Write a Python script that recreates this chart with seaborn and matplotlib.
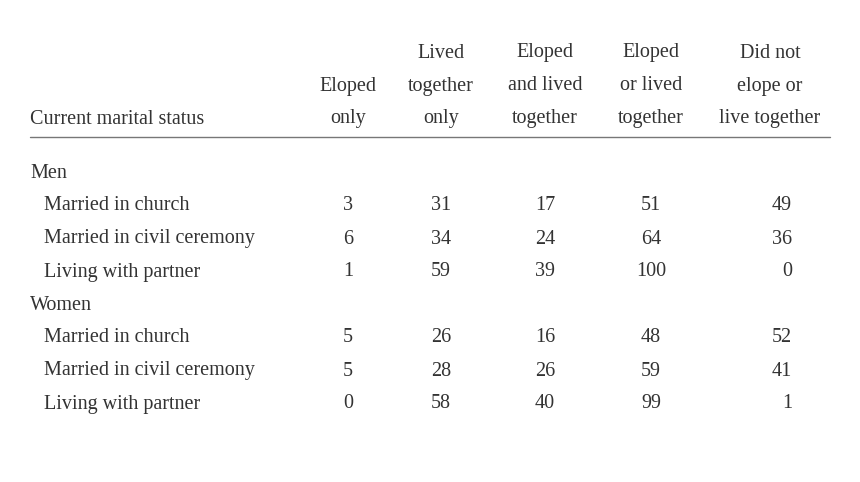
import matplotlib
matplotlib.use("Agg")
import matplotlib.pyplot as plt
import seaborn as sns

sns.set_theme(style="white")
plt.rcParams["font.family"] = ["Liberation Serif", "DejaVu Serif"]

headers = [["Eloped", "only"], ["Lived", "together", "only"], ["Eloped", "and lived", "together"],
           ["Eloped", "or lived", "together"], ["Did not", "elope or", "live together"]]
groups = ["Men", "Women"]
row_labels = ["Married in church", "Married in civil ceremony", "Living with partner"]
men_values = [[3, 31, 17, 51, 49], [6, 34, 24, 64, 36], [1, 59, 39, 100, 0]]
women_values = [[5, 26, 16, 48, 52], [5, 28, 26, 59, 41], [0, 58, 40, 99, 1]]

col_x = [348, 441, 545, 651, 770]
text_color = "#333333"
fs = 14.5
step = 33

fig = plt.figure(figsize=(8.6, 4.82), dpi=100)
ax = fig.add_axes([0, 0, 1, 1])
ax.set_xlim(0, 860)
ax.set_ylim(482, 0)
ax.axis("off")

ax.text(30, 119, "Current marital status", fontsize=fs, color=text_color, va="center")
for x, lines in zip(col_x, headers):
    for k, line in enumerate(reversed(lines)):
        ax.text(x, 119 - k * step, line, fontsize=fs, color=text_color, ha="center", va="center")
ax.plot([30, 830], [137, 137], color="#777777", lw=1)

y = 173
for g, vals in zip(groups, [men_values, women_values]):
    ax.text(30, y, g, fontsize=fs, color=text_color, va="center")
    y += step
    for lab, row in zip(row_labels, vals):
        ax.text(44, y, lab, fontsize=fs, color=text_color, va="center")
        for i, v in enumerate(row):
            if i == 4:
                ax.text(792, y, str(v), fontsize=fs, color=text_color, ha="right", va="center")
            else:
                ax.text(col_x[i], y, str(v), fontsize=fs, color=text_color, ha="center", va="center")
        y += step

fig.savefig("out.png", dpi=100, facecolor="white")
